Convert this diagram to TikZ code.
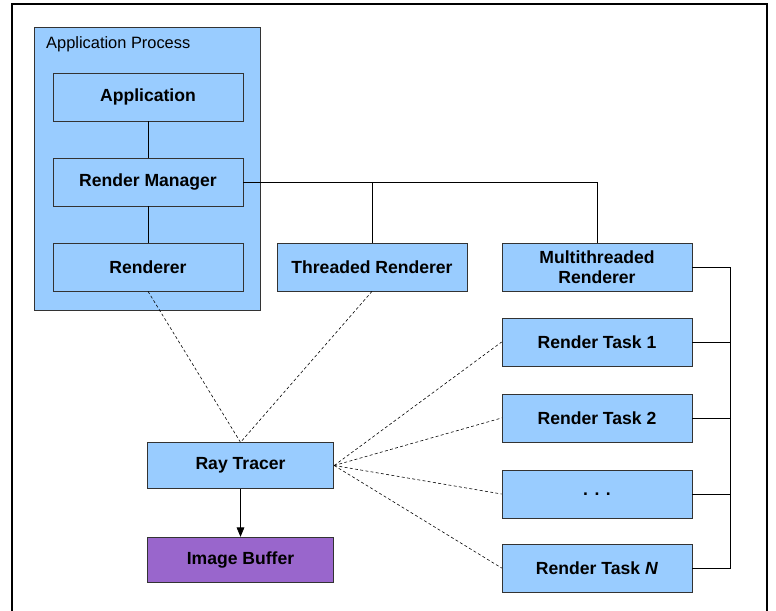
\documentclass[tikz,border=0pt]{standalone}
\usepackage{fontspec}
\setmainfont{Liberation Sans}
\usepackage{xcolor}
\usetikzlibrary{arrows.meta}

\definecolor{boxblue}{HTML}{99CCFF}
\definecolor{boxpurple}{HTML}{9966CC}

\begin{document}
\begin{tikzpicture}[
  x=0.03cm, y=-0.03cm,
  part/.style={draw=black!80, line width=0.6pt, fill=boxblue,
               minimum width=5.7cm, minimum height=1.44cm, align=center,
               inner sep=1pt, font=\fontsize{15}{17.5}\selectfont\bfseries},
  core/.style={part, minimum width=5.6cm, minimum height=1.37cm},
  group/.style={draw=black!80, line width=0.6pt, fill=boxblue,
                minimum width=6.78cm, minimum height=8.49cm},
  link/.style={draw, line width=0.6pt},
  hint/.style={draw, line width=0.5pt, dash pattern=on 2.5pt off 2pt},
  >={Triangle[length=8pt,width=6.5pt]}
]
  \useasboundingbox (0,0) rectangle (776,611);
  \draw[line width=1pt] (12,611) -- (12,4) -- (767,4) -- (767,611);

  % application process container
  \node[group] (proc) at (147,168.5) {};
  \node[anchor=west, inner sep=0pt, font=\fontsize{14}{16}\selectfont] (proclabel) at (46,44) {Application Process};

  \node[part] (app)  at (148,97)  {Application};
  \node[part] (mgr)  at (148,182) {Render Manager};
  \node[part] (rend) at (148,267) {Renderer};
  \node[part] (thr)  at (372,267) {Threaded Renderer};
  \node[part] (multi) at (597,267) {Multithreaded\\Renderer};

  \node[part] (task1) at (597,342) {Render Task 1};
  \node[part] (task2) at (597,418) {Render Task 2};
  \node[part] (taskd) at (597,494) {. . .};
  \node[part] (taskn) at (597,568) {Render Task \textit{N}};

  \node[core] (ray) at (240.5,465.5) {Ray Tracer};
  \node[core, fill=boxpurple] (buf) at (240.5,560) {Image Buffer};

  % solid links
  \draw[link] (app) -- (mgr);
  \draw[link] (mgr) -- (rend);
  \draw[link] (mgr.east) -| (multi.north);
  \draw[link] (thr.north) -- (thr.north |- mgr.east);

  % task bus
  \coordinate (bustop) at (730,267);
  \coordinate (busbot) at (730,568);
  \draw[link] (multi.east) -- (bustop) -- (busbot) -- (taskn.east);
  \draw[link] (task1.east) -- (task1.east -| bustop);
  \draw[link] (task2.east) -- (task2.east -| bustop);
  \draw[link] (taskd.east) -- (taskd.east -| bustop);

  % dashed links to ray tracer
  \draw[hint] (rend.south) -- (ray.north);
  \draw[hint] (thr.south) -- (ray.north);
  \draw[hint] (ray.east) -- (task1.west);
  \draw[hint] (ray.east) -- (task2.west);
  \draw[hint] (ray.east) -- (taskd.west);
  \draw[hint] (ray.east) -- (taskn.west);

  \draw[link, ->] (ray) -- (buf);
\end{tikzpicture}
\end{document}
